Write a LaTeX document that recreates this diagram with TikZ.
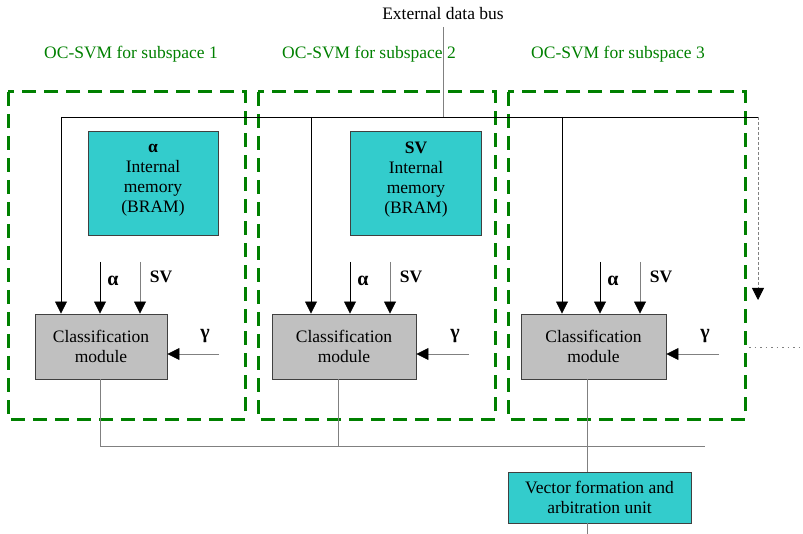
\documentclass[tikz,border=0pt]{standalone}
\usepackage{fontspec}
\setmainfont{Liberation Serif}
\usetikzlibrary{arrows.meta}
\definecolor{tealfill}{RGB}{51,204,204}
\definecolor{modfill}{RGB}{192,192,192}
\definecolor{boxgreen}{RGB}{0,128,0}
\definecolor{wiregray}{RGB}{128,128,128}
\definecolor{edgegray}{RGB}{64,64,64}
\begin{document}
\begin{tikzpicture}[x=1pt,y=-1pt,
  every node/.style={font=\fontsize{17.5}{20}\selectfont, inner sep=0pt},
  membox/.style={draw=edgegray, line width=0.9pt, fill=tealfill, align=center},
  modbox/.style={draw=edgegray, line width=0.9pt, fill=modfill, align=center, minimum height=65pt},
  subbox/.style={draw=boxgreen, line width=3pt, dash pattern=on 14pt off 8pt},
  sublabel/.style={text=boxgreen},
  greek/.style={font=\fontsize{20}{22}\selectfont\bfseries},
  wire/.style={draw=black, line width=0.8pt},
  graywire/.style={draw=wiregray, line width=1pt},
  arr/.style={-{Triangle[length=12pt,width=12pt,color=black]}, line width=0.8pt},
  grayarr/.style={arr, draw=wiregray},
]
\useasboundingbox (0,0) rectangle (803,534);

% bus label and subsystem titles
\node (bus) at (443,14) {External data bus};
\node[sublabel] (t1) at (131,54) {OC-SVM for subspace 1};
\node[sublabel] (t2) at (369,54) {OC-SVM for subspace 2};
\node[sublabel] (t3) at (618,54) {OC-SVM for subspace 3};

% dashed subsystem frames
\draw[subbox] (8,92) rectangle (245,419);
\draw[subbox] (258,92) rectangle (495,419);
\draw[subbox] (508,92) rectangle (745,419);

% internal memories
\node[membox, minimum width=130pt, minimum height=104pt] (mem1) at (153,183) {};
\node[align=center] (mem1txt) at (153,180) {\textbf{α}\\Internal\\memory\\(BRAM)};
\node[membox, minimum width=131pt, minimum height=104pt] (mem2) at (416,183) {};
\node[align=center] (mem2txt) at (416,180) {\textbf{SV}\\Internal\\memory\\(BRAM)};

% classification modules
\node[modbox, minimum width=132pt] (m1) at (101,346.5) {Classification\\module};
\node[modbox, minimum width=144pt] (m2) at (344,346.5) {Classification\\module};
\node[modbox, minimum width=145pt] (m3) at (593.5,346.5) {Classification\\module};

% vector formation unit
\node[membox, minimum width=183pt, minimum height=51pt] (vfu) at (599.5,497.5) {Vector formation and\\arbitration unit};

% shared data bus
\coordinate (busL) at (61,117);
\coordinate (busR) at (758,117);
\coordinate (busT) at (443,27);
\coordinate (busJ) at (443,117);
\draw[graywire] (busT) -- (busJ);
\draw[wire] (busL) -- (busR);
\draw[arr] (busL) -- (busL |- m1.north);
\draw[arr] (311,117) -- (311,117 |- m2.north);
\draw[arr] (562,117) -- (562,117 |- m3.north);
\coordinate (nextin) at (758,300);
\draw[grayarr, dash pattern=on 3pt off 2pt] (busR) -- (nextin);

% alpha / SV inputs
\foreach \m/\xa/\xs in {m1/100/140, m2/350/390, m3/600/640} {
  \coordinate (a\m) at (\xa,262);
  \coordinate (s\m) at (\xs,262);
  \draw[arr] (a\m) -- (a\m |- \m.north);
  \draw[grayarr] (s\m) -- (s\m |- \m.north);
  \node[greek] (la\m) at (\xa+13,281) {α};
  \node (ls\m) at (\xs+21,277) {\textbf{SV}};
}

% gamma inputs
\foreach \m/\xg in {m1/219, m2/469, m3/719} {
  \coordinate (g\m) at (\xg,354);
  \draw[grayarr] (g\m) -- (g\m -| \m.east);
  \node[greek] (lg\m) at (\xg-14,336) {γ};
}

% continuation to further subspaces
\coordinate (dotL) at (749,347);
\coordinate (dotR) at (803,347);
\draw[draw=wiregray, line width=0.8pt, dash pattern=on 1.5pt off 4pt] (dotL) -- (dotR);

% result collection
\coordinate (o1) at (100,446);
\coordinate (o2) at (338,446);
\coordinate (oR) at (705,446);
\draw[graywire] (m1.south -| o1) -- (o1);
\draw[graywire] (m2.south -| o2) -- (o2);
\draw[graywire] (o1) -- (oR);
\draw[graywire] (m3.south -| 587,0) -- (vfu.north -| 587,0);
\coordinate (vout) at (587,534);
\draw[graywire] (vfu.south -| vout) -- (vout);
\end{tikzpicture}
\end{document}
